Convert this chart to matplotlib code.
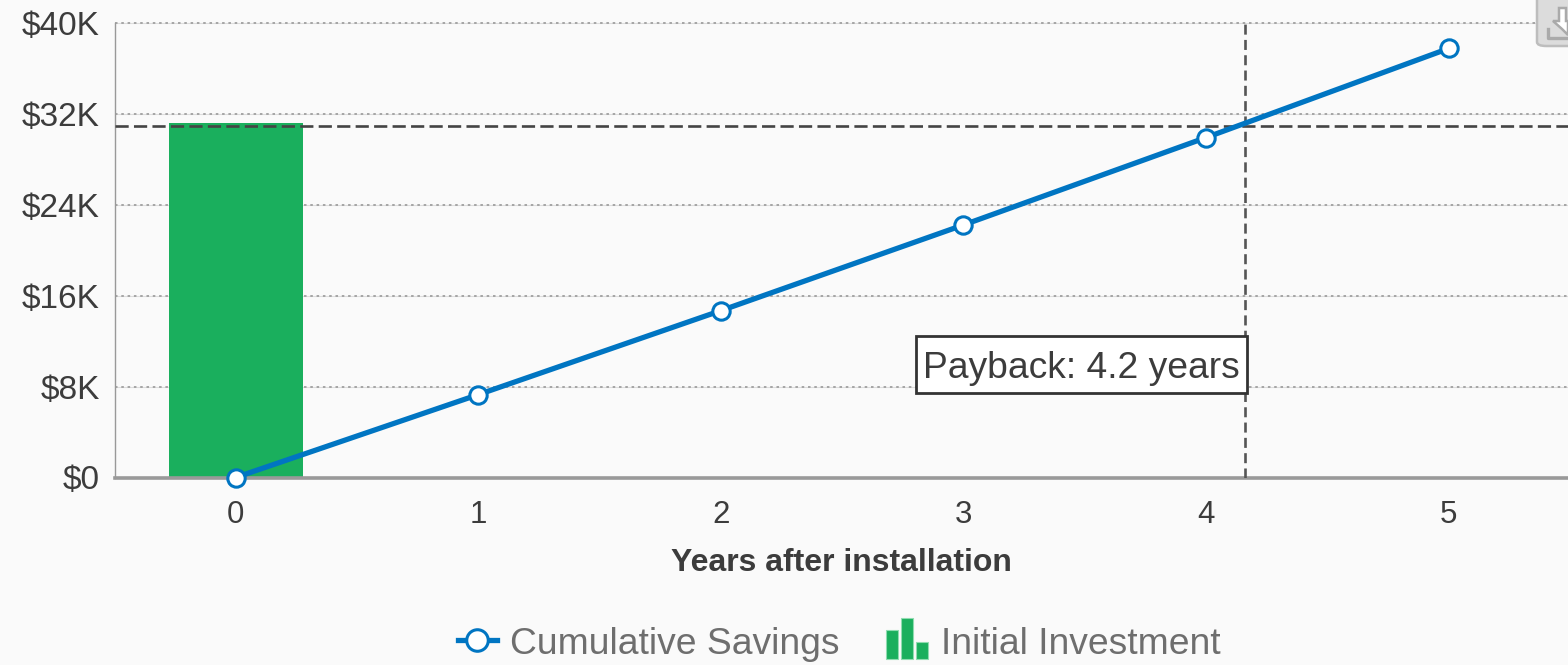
"""
Payback chart: cumulative savings vs initial investment
"""
import matplotlib
matplotlib.use('Agg')
import matplotlib.pyplot as plt
from matplotlib.legend_handler import HandlerBase
from matplotlib.lines import Line2D
from matplotlib.patches import FancyBboxPatch, Polygon, Rectangle

plt.rcParams['font.family'] = ['Liberation Sans', 'DejaVu Sans']

# data
years = [0, 1, 2, 3, 4, 5]
cumulative_savings = [0, 7300, 14700, 22250, 29950, 37800]
investment_years = [0]
initial_investment = [31200]
payback_cost = 31000
payback_year = 4.16
y_ticks = [0, 8000, 16000, 24000, 32000, 40000]
y_tick_labels = ['$0', '$8K', '$16K', '$24K', '$32K', '$40K']

W, H = 1568, 665
BLUE = '#0075c2'
GREEN = '#1aaf5d'
TEXT = '#3c3c3c'
BG = '#fafafa'


class BarIconHandler(HandlerBase):
    """small three-bar legend icon"""
    def create_artists(self, legend, orig_handle, xdescent, ydescent, width, height, fontsize, trans):
        artists = []
        for left, bar_w, bar_h in [(-0.04, 0.29, 1.115), (0.335, 0.29, 1.58), (0.71, 0.29, 0.65)]:
            artists.append(Rectangle((left * width - xdescent, -ydescent - 0.2 * height), bar_w * width, bar_h * height,
                                     facecolor=GREEN, edgecolor='#8fdcb0', linewidth=0.8, transform=trans))
        return artists


fig = plt.figure(figsize=(W / 100, H / 100), dpi=100, facecolor=BG)
ax = fig.add_axes([115 / W, 1 - 477.5 / H, 1 - 115 / W, 454 / H], facecolor=BG)

ax.bar(investment_years, initial_investment, width=0.552, color=GREEN, zorder=2)
ax.axhline(payback_cost, color='#444444', lw=1.9, dashes=(5, 2), zorder=3)
ax.axvline(payback_year + 0.002, color='#555555', lw=1.9, dashes=(3.8, 2), zorder=3)
ax.plot(years, cumulative_savings, color=BLUE, lw=3.8, marker='o', ms=12.5,
        mfc='white', mec=BLUE, mew=2.2, zorder=4, clip_on=False)

ax.set_xlim(-0.497, 5.492)
ax.set_ylim(0, 40000)
ax.set_xticks(years)
ax.set_yticks(y_ticks)
ax.set_yticklabels(y_tick_labels)
ax.tick_params(axis='both', length=0, labelcolor=TEXT)
ax.tick_params(axis='x', pad=16, labelsize=22.5)
ax.tick_params(axis='y', pad=10.8, labelsize=24)

# gridlines: faint line with grey dots over it
for tick in y_ticks[1:]:
    ax.axhline(tick, color='#dddddd', lw=0.8, zorder=1, clip_on=False)
    ax.axhline(tick, color='#a5a5a5', lw=1.4, ls=(0, (1.3, 1.94)), zorder=1, clip_on=False)

for side in ['top', 'right']:
    ax.spines[side].set_visible(False)
ax.spines['left'].set_color('#999999')
ax.spines['left'].set_linewidth(1)
ax.spines['bottom'].set_color('#999999')
ax.spines['bottom'].set_linewidth(2.6)

fig.text(841 / W, 1 - 563 / H, 'Years after installation', fontsize=23, fontweight='bold',
         color=TEXT, ha='center', va='center')

# payback label
fig.add_artist(Rectangle((916 / W, 1 - 393 / H), 331 / W, 57 / H, transform=fig.transFigure,
                         fc='white', ec='#333333', lw=2, zorder=4))
fig.text(1081.5 / W, 1 - 369 / H, 'Payback: 4.2 years', fontsize=26.8, color=TEXT,
         ha='center', va='center', zorder=6)

# legend
line_handle = Line2D([], [], color=BLUE, lw=3.8, marker='o', ms=15.5, mfc='white', mec=BLUE, mew=2.2)
bar_handle = Rectangle((0, 0), 1, 1, fc=GREEN)
fig.legend([line_handle, bar_handle], ['Cumulative Savings', 'Initial Investment'],
           handler_map={Rectangle: BarIconHandler()}, loc='center', ncol=2,
           bbox_to_anchor=(839 / W, 1 - 644 / H), frameon=False, fontsize=26.8, labelcolor='#6e6e6e',
           handlelength=1.07, handletextpad=0.35, columnspacing=1.29, borderpad=0)

# export button, top right corner
fig.add_artist(FancyBboxPatch((1537 / W, 1 - 46 / H), 60 / W, 52 / H, transform=fig.transFigure,
                              boxstyle='round,pad=0,rounding_size=0.006', fc='#dcdcdc', ec='#bdbdbd', lw=1.8, zorder=7))
icon = [(1559, 8), (1566, 8), (1566, 21), (1568, 21), (1568, 35), (1562, 29), (1553, 21), (1559, 21)]
fig.add_artist(Polygon([(x / W, 1 - y / H) for x, y in icon], transform=fig.transFigure,
                       fc='white', ec='#aaaaaa', lw=1.8, zorder=8))
fig.add_artist(Line2D([1548 / W, 1548 / W, 1568 / W], [1 - 29 / H, 1 - 38 / H, 1 - 38 / H],
                      color='#aaaaaa', lw=2.4, zorder=8))

fig.savefig('out.png', dpi=100, facecolor=BG)
